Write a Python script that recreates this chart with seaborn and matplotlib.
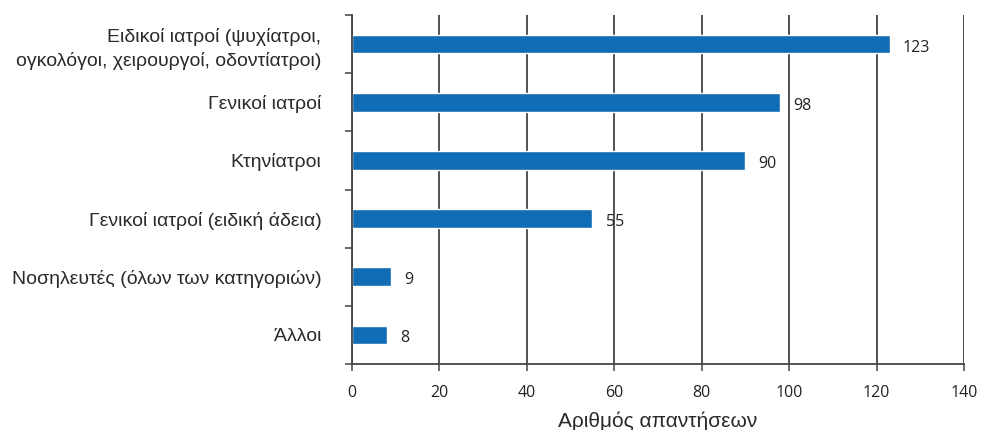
import numpy as np
import pandas as pd
import matplotlib
matplotlib.use("Agg")
import matplotlib.pyplot as plt
import seaborn as sns
from matplotlib.ticker import FixedLocator

# Δεδομένα
kathgories = [
    "Ειδικοί ιατροί (ψυχίατροι,\nογκολόγοι, χειρουργοί, οδοντίατροι)",
    "Γενικοί ιατροί",
    "Κτηνίατροι",
    "Γενικοί ιατροί (ειδική άδεια)",
    "Νοσηλευτές (όλων των κατηγοριών)",
    "Άλλοι",
]
apanthseis = [123, 98, 90, 55, 9, 8]
x_ticks = [0, 20, 40, 60, 80, 100, 120, 140]

datos = pd.DataFrame({"kat": kathgories, "n": apanthseis})

sns.set_style("white")
plt.rcParams["font.family"] = ["Liberation Sans", "DejaVu Sans"]

fig = plt.figure(figsize=(9.81, 4.30), dpi=100)
ax = fig.add_axes([0.3588, 0.1535, 0.6239, 0.8115])

sns.barplot(data=datos, x="n", y="kat", orient="h", color="#116cb6",
            saturation=1, width=0.32, ax=ax)

ax.set_xlim(0, 140)
ax.set_ylim(len(kathgories) - 0.5, -0.5)
ax.set_xticks(x_ticks)
ax.set_xticklabels([str(t) for t in x_ticks], family="Open Sans", fontsize=11.5)
ax.grid(axis="x", color="#222222", linewidth=1.1)
ax.set_axisbelow(True)

# τικ στα όρια των κατηγοριών
ax.yaxis.set_minor_locator(FixedLocator(np.arange(-0.5, len(kathgories), 1)))
ax.tick_params(axis="y", which="major", length=0, pad=22, labelsize=14, colors="#2a2a2a")
ax.tick_params(axis="y", which="minor", left=True, length=5, width=1.1, color="#444444")
ax.tick_params(axis="x", which="major", bottom=True, length=5, width=1.1,
               color="#444444", pad=10, labelcolor="#222222")
for lbl in ax.get_yticklabels():
    lbl.set_linespacing(1.4)

for s in ["top", "right"]:
    ax.spines[s].set_visible(False)
for s in ["left", "bottom"]:
    ax.spines[s].set_color("#444444")
    ax.spines[s].set_linewidth(1.3)

ax.set_ylabel("")
ax.set_xlabel("Αριθμός απαντήσεων", fontsize=15, labelpad=8, color="#2a2a2a")

for i, v in enumerate(apanthseis):
    ax.text(v + 3, i + 0.06, str(v), va="center", ha="left",
            family="Open Sans", fontsize=11.5, color="#222222")

fig.savefig("out.png", dpi=100)
plt.close()
